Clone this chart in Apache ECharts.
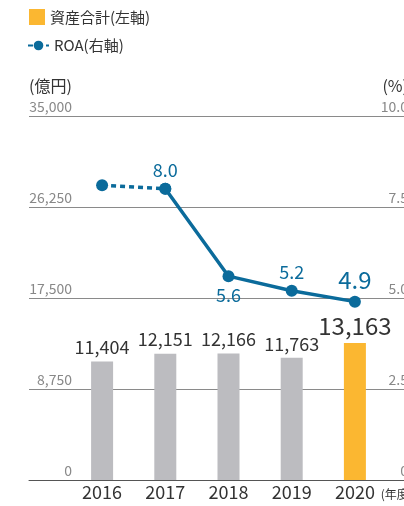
<!DOCTYPE html>
<html>
<head>
<meta charset="utf-8">
<script src="https://cdn.jsdelivr.net/npm/echarts@6/dist/echarts.min.js"></script>
<style>
    html, body { margin: 0; padding: 0; background: #fff; }
    #chart { width: 404px; height: 506px; }
</style>
</head>
<body>
<div id="chart"></div>
<script>
var years = ['2016', '2017', '2018', '2019', '2020'];
var totalAssets = [11404, 12151, 12166, 11763, 13163];
var roa = [8.1, 8.0, 5.6, 5.2, 4.9];
var leftTicks = [0, 8750, 17500, 26250, 35000];
var rightTicks = [0, 2.5, 5.0, 7.5, 10.0];

var FONT = 'Noto Sans CJK JP';
var GRAY = '#bcbcc0';
var ORANGE = '#fbb731';
var BLUE = '#0b6b9b';

var chart = echarts.init(document.getElementById('chart'));

// bars: 2020 highlighted, earlier years gray
var barData = totalAssets.map(function (v, i) {
    var last = i === totalAssets.length - 1;
    return {
        value: v,
        itemStyle: { color: last ? ORANGE : GRAY },
        label: last ? { fontSize: 24, distance: 5 } : {}
    };
});

// dotted part: 2016 -> 2017
var roaDashed = roa.map(function (v, i) { return i <= 1 ? v : null; });
// solid part with labels: 2017 onwards
var labelPos = ['top', 'top', 'bottom', 'top', 'top'];
var roaSolid = roa.map(function (v, i) {
    if (i < 1) return null;
    var last = i === roa.length - 1;
    return {
        value: v,
        label: { position: labelPos[i], fontSize: last ? 24 : 18 }
    };
});

chart.setOption({
    backgroundColor: '#fff',
    textStyle: { fontFamily: FONT },
    animation: false,
    legend: [{
        left: 29,
        top: 9,
        padding: 0,
        itemWidth: 16,
        itemHeight: 16,
        itemGap: 0,
        textStyle: { fontSize: 15, color: '#333', fontFamily: FONT },
        data: [{ name: '資産合計(左軸)', icon: 'rect', itemStyle: { color: ORANGE } }]
    }, {
        left: 27,
        top: 38,
        padding: 0,
        itemWidth: 21,
        itemHeight: 12,
        textStyle: { fontSize: 15, color: '#333', fontFamily: FONT },
        data: ['ROA(右軸)']
    }],
    grid: [
        { left: 29, right: -4, top: 116, bottom: 26, outerBoundsMode: 'none' },
        { left: 70.5, right: 17.5, top: 116, bottom: 26, outerBoundsMode: 'none' }
    ],
    xAxis: [{
        gridIndex: 0,
        type: 'value',
        min: 0,
        max: 1,
        axisLine: { show: true, lineStyle: { color: '#555', width: 1 } },
        axisTick: { show: false },
        axisLabel: { show: false },
        splitLine: { show: false }
    }, {
        gridIndex: 1,
        type: 'category',
        data: years,
        axisLine: { show: false },
        axisTick: { show: false },
        axisLabel: { fontSize: 18, color: '#333', margin: 3, fontFamily: FONT },
        name: '(年度)',
        nameLocation: 'end',
        nameGap: -9,
        nameTextStyle: { fontSize: 12, color: '#333', verticalAlign: 'top', padding: [8, 0, 0, 0], fontFamily: FONT }
    }],
    yAxis: [{
        gridIndex: 0,
        type: 'value',
        position: 'left',
        min: leftTicks[0],
        max: leftTicks[leftTicks.length - 1],
        interval: leftTicks[1] - leftTicks[0],
        name: '(億円)',
        nameLocation: 'end',
        nameGap: 22,
        nameTextStyle: { fontSize: 16, color: '#333', align: 'left', fontFamily: FONT },
        axisLine: { show: false },
        axisTick: { show: false },
        axisLabel: {
            inside: true,
            margin: 43,
            align: 'right',
            verticalAlign: 'bottom',
            padding: [0, 0, 2, 0],
            fontSize: 14,
            color: '#888',
            fontFamily: FONT,
            formatter: function (v) { return v.toLocaleString('en-US'); }
        },
        splitLine: { show: true, lineStyle: { color: '#8a8a8a', width: 1 } }
    }, {
        gridIndex: 0,
        type: 'value',
        position: 'right',
        min: rightTicks[0],
        max: rightTicks[rightTicks.length - 1],
        interval: rightTicks[1] - rightTicks[0],
        name: '(%)',
        nameLocation: 'end',
        nameGap: 22,
        nameTextStyle: { fontSize: 16, color: '#333', align: 'right', fontFamily: FONT },
        axisLine: { show: false },
        axisTick: { show: false },
        axisLabel: {
            inside: true,
            margin: 0,
            align: 'right',
            verticalAlign: 'bottom',
            padding: [0, 0, 2, 0],
            fontSize: 14,
            color: '#888',
            fontFamily: FONT,
            formatter: function (v) { return v === 0 ? '0' : v.toFixed(1); }
        },
        splitLine: { show: false }
    }, {
        gridIndex: 1,
        type: 'value',
        min: leftTicks[0],
        max: leftTicks[leftTicks.length - 1],
        show: false
    }, {
        gridIndex: 1,
        type: 'value',
        min: rightTicks[0],
        max: rightTicks[rightTicks.length - 1],
        show: false
    }],
    series: [{
        name: '資産合計(左軸)',
        type: 'bar',
        xAxisIndex: 1,
        yAxisIndex: 2,
        barWidth: 22,
        itemStyle: { color: ORANGE },
        label: {
            show: true,
            position: 'top',
            distance: 5,
            fontSize: 18,
            color: '#333',
            fontFamily: FONT,
            formatter: function (p) { return p.value.toLocaleString('en-US'); }
        },
        data: barData
    }, {
        name: 'ROA(右軸)',
        type: 'line',
        xAxisIndex: 1,
        yAxisIndex: 3,
        symbol: 'circle',
        symbolSize: 12,
        itemStyle: { color: BLUE },
        lineStyle: { color: BLUE, width: 3.5, type: [5, 4] },
        z: 3,
        data: roaDashed
    }, {
        name: 'ROA(右軸)',
        type: 'line',
        xAxisIndex: 1,
        yAxisIndex: 3,
        symbol: 'circle',
        symbolSize: 12,
        itemStyle: { color: BLUE },
        lineStyle: { color: BLUE, width: 3.5 },
        z: 4,
        label: {
            show: true,
            distance: 4,
            color: BLUE,
            fontFamily: FONT,
            formatter: function (p) { return p.value.toFixed(1); }
        },
        data: roaSolid
    }]
});

window.addEventListener('resize', function () {
    chart.resize();
});
</script>
</body>
</html>
